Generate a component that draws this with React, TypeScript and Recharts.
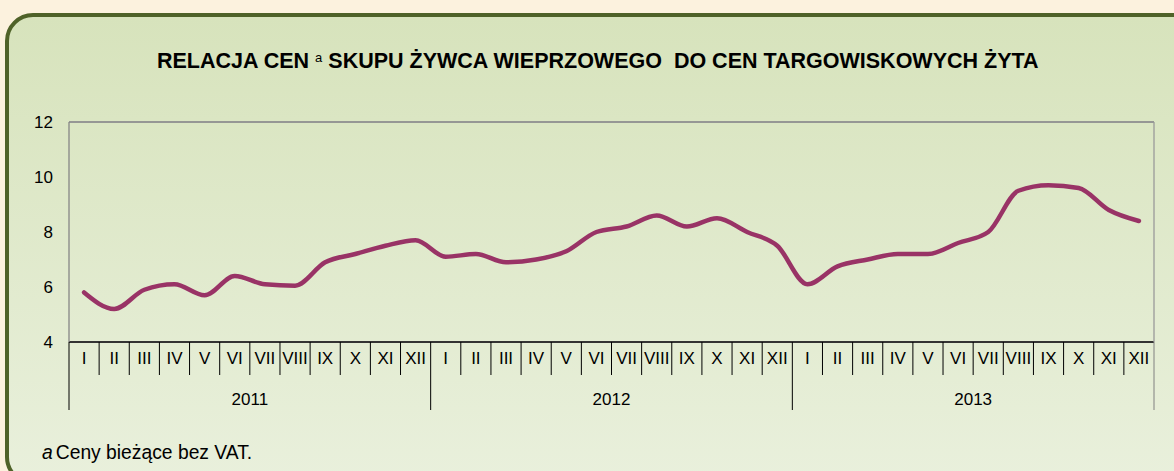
import React from 'react';
import { LineChart, Line, XAxis, YAxis, CartesianGrid, ReferenceLine } from 'recharts';

const years = ['2011', '2012', '2013'];
const months = ['I', 'II', 'III', 'IV', 'V', 'VI', 'VII', 'VIII', 'IX', 'X', 'XI', 'XII'];

const ratio2011 = [5.8, 5.2, 5.9, 6.1, 5.7, 6.4, 6.1, 6.05, 6.9, 7.2, 7.5, 7.7];
const ratio2012 = [7.1, 7.2, 6.9, 7.0, 7.3, 8.0, 8.2, 8.6, 8.2, 8.5, 8.0, 7.5];
const ratio2013 = [6.1, 6.75, 7.0, 7.2, 7.2, 7.6, 8.0, 9.5, 9.7, 9.6, 8.8, 8.4];

const yTicks = [4, 6, 8, 10, 12];

const data = [ratio2011, ratio2012, ratio2013].flatMap((vals, yi) =>
    vals.map((v, mi) => ({ key: `${years[yi]}-${months[mi]}`, month: months[mi], value: v }))
);

const W = 1174;
const H = 471;
const PLOT_LEFT = 69;
const PLOT_RIGHT = 1154;
const PLOT_TOP = 122;
const AXIS_Y = 342;
const PLOT_W = PLOT_RIGHT - PLOT_LEFT;

const FONT = 'Arial, "Liberation Sans", sans-serif';

const MonthTick = (props: any) => {
    const { x, y, index, payload } = props;
    const n = data.length;
    const bw = PLOT_W / n;
    const left = x - bw / 2;
    const yearStart = index % 12 === 0;
    return (
        <g>
            <line x1={left} x2={left} y1={y} y2={y + (yearStart ? 68 : 33)} stroke="#000" strokeWidth={1} />
            {index === n - 1 && (
                <line x1={x + bw / 2} x2={x + bw / 2} y1={y} y2={y + 68} stroke="#808080" strokeWidth={1} />
            )}
            <text x={x} y={y + 22} textAnchor="middle" fontSize={17} fontFamily={FONT} fill="#000">
                {data[index] ? data[index].month : payload.value}
            </text>
            {index % 12 === 6 && (
                <text x={left} y={y + 63} textAnchor="middle" fontSize={17} fontFamily={FONT} fill="#000">
                    {years[Math.floor(index / 12)]}
                </text>
            )}
        </g>
    );
};

const ValueTick = (props: any) => {
    const { y, payload } = props;
    return (
        <text x={53} y={y + 6} textAnchor="end" fontSize={17} fontFamily={FONT} fill="#000">
            {payload.value}
        </text>
    );
};

export default function App() {
    return (
        <div
            style={{
                position: 'absolute',
                left: 0,
                top: 0,
                width: W,
                height: H,
                overflow: 'hidden',
                background: '#fcf2de',
                fontFamily: FONT,
            }}
        >
            <div
                style={{
                    position: 'absolute',
                    left: 5,
                    top: 13,
                    width: 1215,
                    height: 472,
                    boxSizing: 'border-box',
                    border: '4px solid #4f6228',
                    borderRadius: 28,
                    background: 'linear-gradient(#d7e3bc, #e9f0dc)',
                }}
            />
            <div
                style={{
                    position: 'absolute',
                    left: 157,
                    top: 43,
                    fontSize: 21.5,
                    fontWeight: 'bold',
                    color: '#000',
                    whiteSpace: 'pre',
                    lineHeight: '30px',
                }}
            >
                RELACJA CEN <span style={{ fontSize: 13, fontWeight: 'normal', verticalAlign: 6 }}>a</span> SKUPU ŻYWCA WIEPRZOWEGO  DO CEN TARGOWISKOWYCH ŻYTA
            </div>
            <div
                style={{
                    position: 'absolute',
                    left: 42,
                    top: 440,
                    fontSize: 19.3,
                    color: '#000',
                    whiteSpace: 'pre',
                    lineHeight: '26px',
                }}
            >
                <i>a</i>
                <span style={{ marginLeft: 3 }}>Ceny bieżące bez VAT.</span>
            </div>
            <div style={{ position: 'absolute', left: 0, top: 0 }}>
                <LineChart
                    width={W}
                    height={H}
                    data={data}
                    margin={{ top: PLOT_TOP, right: 0, bottom: 0, left: 0 }}
                >
                    <CartesianGrid vertical={false} stroke="#c0c0c0" strokeWidth={1.3} />
                    <XAxis
                        dataKey="key"
                        scale="band"
                        height={H - AXIS_Y}
                        interval={0}
                        tickLine={false}
                        tickSize={0}
                        tickMargin={0}
                        axisLine={{ stroke: '#000', strokeWidth: 1.5 }}
                        tick={<MonthTick />}
                    />
                    <YAxis
                        yAxisId="left"
                        width={PLOT_LEFT}
                        domain={[4, 12]}
                        ticks={yTicks}
                        interval={0}
                        tickLine={false}
                        axisLine={{ stroke: '#868686', strokeWidth: 1.3 }}
                        tick={<ValueTick />}
                    />
                    <YAxis
                        yAxisId="right"
                        orientation="right"
                        width={W - PLOT_RIGHT}
                        domain={[4, 12]}
                        ticks={yTicks}
                        tick={false}
                        tickLine={false}
                        axisLine={{ stroke: '#9a9a9a', strokeWidth: 1.3 }}
                    />
                    <ReferenceLine yAxisId="left" y={12} stroke="#868686" strokeWidth={1.3} />
                    <Line
                        yAxisId="left"
                        type="monotone"
                        dataKey="value"
                        stroke="#993366"
                        strokeWidth={4.5}
                        strokeLinecap="round"
                        dot={false}
                        activeDot={false}
                        isAnimationActive={false}
                    />
                </LineChart>
            </div>
        </div>
    );
}
